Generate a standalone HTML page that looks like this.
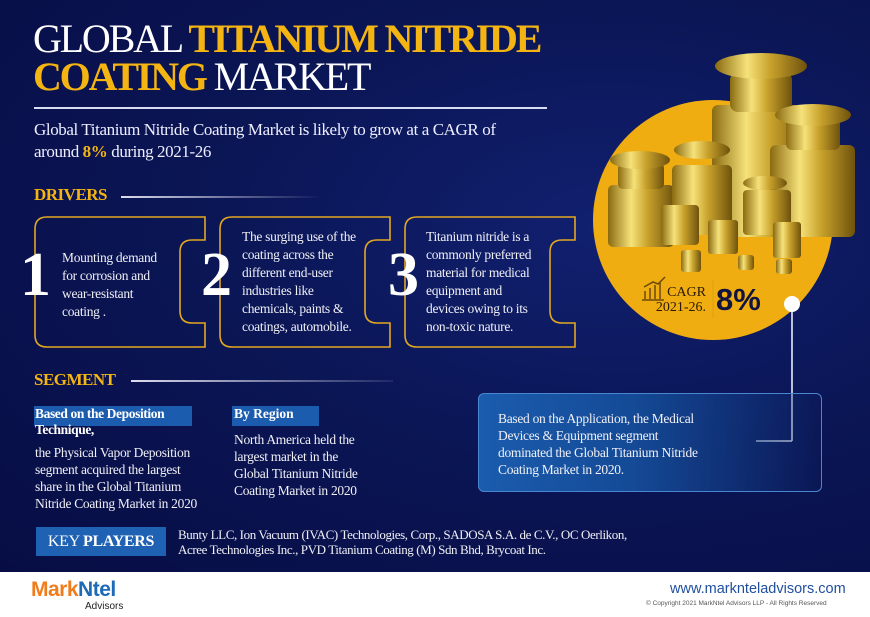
<!DOCTYPE html>
<html><head><meta charset="utf-8">
<style>
*{margin:0;padding:0;box-sizing:border-box}
body{width:870px;height:617px;overflow:hidden;font-family:"Liberation Serif",serif;background:#fff;position:relative}
#bg{position:absolute;left:0;top:0;width:870px;height:572px;background:radial-gradient(ellipse at 70% 40%,#112070 0%,#0b1656 45%,#070d44 100%)}
.abs{position:absolute}
.w{color:#fff}
.y{color:#f4b512}
.t{font-size:13.5px;line-height:18px;color:#f0f0f5;letter-spacing:-0.3px}
</style></head><body>
<div id="bg"></div>

<div class="abs" style="left:33px;top:20px;font-size:40px;line-height:38px;letter-spacing:-2.2px;white-space:nowrap">
<span class="w">GLOBAL </span><span class="y" style="font-weight:bold">TITANIUM NITRIDE</span><br>
<span class="y" style="font-weight:bold">COATING</span><span class="w"> MARKET</span></div>
<div class="abs" style="left:34px;top:107px;width:513px;height:2px;background:#d8dcf0"></div>
<div class="abs w" style="left:34px;top:119px;font-size:17px;line-height:22px;letter-spacing:-0.4px;color:#eef">Global Titanium Nitride Coating Market is likely to grow at a CAGR of<br>around <b class="y">8%</b> during 2021-26</div>

<div class="abs y" style="left:34px;top:185px;font-size:17px;font-weight:bold;letter-spacing:-0.5px">DRIVERS</div>
<div class="abs" style="left:121px;top:196px;width:200px;height:2px;background:linear-gradient(90deg,#dde,rgba(200,200,230,0))"></div>

<svg class="abs" style="left:0;top:0" width="870" height="572">
<g fill="none" stroke="#e3a820" stroke-width="1.6">
<path d="M47,217 H205 V240 H192 Q180,240 180,252 V311 Q180,323 192,323 H205 V347 H47 Q35,347 35,335 V229 Q35,217 47,217Z"/>
<path d="M232,217 H390 V240 H377 Q365,240 365,252 V311 Q365,323 377,323 H390 V347 H232 Q220,347 220,335 V229 Q220,217 232,217Z"/>
<path d="M417,217 H575 V240 H562 Q550,240 550,252 V311 Q550,323 562,323 H575 V347 H417 Q405,347 405,335 V229 Q405,217 417,217Z"/>
</g>
<circle cx="713" cy="220" r="120" fill="#f0ad11"/>
<g>
<defs><linearGradient id="gold" x1="0" x2="1"><stop offset="0" stop-color="#8a6a10"/><stop offset=".35" stop-color="#f6e27a"/><stop offset=".6" stop-color="#c9a22c"/><stop offset="1" stop-color="#6e520c"/></linearGradient></defs>
<rect x="712" y="105" width="98" height="132" rx="6" fill="url(#gold)"/>
<rect x="730" y="72" width="62" height="40" rx="8" fill="url(#gold)"/>
<ellipse cx="761" cy="66" rx="46" ry="13" fill="url(#gold)"/>
<rect x="770" y="145" width="85" height="92" rx="6" fill="url(#gold)"/>
<rect x="786" y="118" width="54" height="32" rx="6" fill="url(#gold)"/>
<ellipse cx="813" cy="115" rx="38" ry="11" fill="url(#gold)"/>
<rect x="608" y="185" width="66" height="62" rx="5" fill="url(#gold)"/>
<rect x="618" y="163" width="46" height="26" rx="5" fill="url(#gold)"/>
<ellipse cx="640" cy="160" rx="30" ry="9" fill="url(#gold)"/>
<rect x="672" y="165" width="60" height="70" rx="5" fill="url(#gold)"/>
<ellipse cx="702" cy="150" rx="28" ry="9" fill="url(#gold)"/>
<rect x="743" y="190" width="48" height="45" rx="4" fill="url(#gold)"/>
<ellipse cx="765" cy="183" rx="22" ry="7" fill="url(#gold)"/>
<rect x="661" y="205" width="38" height="40" rx="4" fill="url(#gold)"/>
<rect x="708" y="220" width="30" height="34" rx="3" fill="url(#gold)"/>
<rect x="773" y="222" width="28" height="36" rx="3" fill="url(#gold)"/>
<rect x="681" y="250" width="20" height="22" rx="3" fill="url(#gold)"/>
<rect x="738" y="255" width="16" height="15" rx="3" fill="url(#gold)"/>
<rect x="776" y="259" width="16" height="15" rx="3" fill="url(#gold)"/>
</g>
<line x1="713" y1="280" x2="713" y2="318" stroke="#e0a010" stroke-width="1"/>
<g stroke="#6b4a08" stroke-width="1.5" fill="none">
<path d="M642,300 H664 M645,299 V291 M650,299 V288 M655,299 V285 M660,299 V282 M644,287 L653,282 L658,284 L665,277"/>
</g>
<line x1="792" y1="304" x2="792" y2="441" stroke="#e8ebf7" stroke-width="1.6"/>
<line x1="756" y1="441" x2="792" y2="441" stroke="#e8ebf7" stroke-width="1.6"/>
<circle cx="792" cy="304" r="8" fill="#fff"/>
</svg>

<div class="abs" style="left:646px;top:285px;font-size:14px;line-height:15px;color:#2a1a00;text-align:right;width:60px">CAGR<br>2021-26.</div>
<div class="abs" style="left:716px;top:282px;font-family:'Liberation Sans',sans-serif;font-weight:bold;font-size:31px;color:#10143e">8%</div>

<div class="abs w" style="left:20px;top:240px;font-size:62px;font-weight:bold">1</div>
<div class="abs w" style="left:201px;top:240px;font-size:62px;font-weight:bold">2</div>
<div class="abs w" style="left:388px;top:240px;font-size:62px;font-weight:bold">3</div>
<div class="abs t" style="left:62px;top:249px">Mounting demand<br>for corrosion and<br>wear-resistant<br>coating .</div>
<div class="abs t" style="left:242px;top:228px">The surging use of the<br>coating across the<br>different end-user<br>industries like<br>chemicals, paints &amp;<br>coatings, automobile.</div>
<div class="abs t" style="left:426px;top:228px">Titanium nitride is a<br>commonly preferred<br>material for medical<br>equipment and<br>devices owing to its<br>non-toxic nature.</div>

<div class="abs y" style="left:34px;top:370px;font-size:17px;font-weight:bold;letter-spacing:-0.5px">SEGMENT</div>
<div class="abs" style="left:131px;top:380px;width:262px;height:2px;background:linear-gradient(90deg,#dde,rgba(200,200,230,0.1))"></div>

<div class="abs" style="left:34px;top:406px;width:158px;height:20px;background:#1b5cae"></div>
<div class="abs w" style="left:35px;top:406px;font-size:13.5px;line-height:16px;font-weight:bold;letter-spacing:-0.4px">Based on the Deposition<br>Technique,</div>
<div class="abs t" style="left:35px;top:444px;line-height:17px">the Physical Vapor Deposition<br>segment acquired the largest<br>share in the Global Titanium<br>Nitride Coating Market in 2020</div>
<div class="abs" style="left:232px;top:406px;width:87px;height:20px;background:#1b5cae"></div>
<div class="abs w" style="left:234px;top:406px;font-size:13.5px;line-height:16px;font-weight:bold">By Region</div>
<div class="abs t" style="left:234px;top:431px;line-height:17px">North America held the<br>largest market in the<br>Global Titanium Nitride<br>Coating Market in 2020</div>

<div class="abs" style="left:478px;top:393px;width:344px;height:99px;border-radius:6px;border:1.5px solid #4a86d0;background:linear-gradient(90deg,#1b5cae 0%,#144a96 45%,rgba(13,30,94,0.2) 100%)"></div>
<div class="abs t" style="left:498px;top:410px;line-height:17px">Based on the Application, the Medical<br>Devices &amp; Equipment segment<br>dominated the Global Titanium Nitride<br>Coating Market in 2020.</div>

<div class="abs" style="left:36px;top:527px;width:130px;height:29px;background:#1f62b4;color:#fff;font-size:16px;line-height:29px;text-align:center;letter-spacing:-0.3px">KEY <b>PLAYERS</b></div>
<div class="abs t" style="left:178px;top:527px;line-height:15px;font-size:13px;letter-spacing:-0.4px">Bunty LLC, Ion Vacuum (IVAC) Technologies, Corp., SADOSA S.A. de C.V., OC Oerlikon,<br>Acree Technologies Inc., PVD Titanium Coating (M) Sdn Bhd, Brycoat Inc.</div>

<div class="abs" style="left:0;top:572px;width:870px;height:45px;background:#fff"></div>
<div class="abs" style="left:31px;top:578px;font-family:'Liberation Sans',sans-serif;font-weight:bold;font-size:21px;letter-spacing:-0.5px"><span style="color:#f07c1c">Mark</span><span style="color:#1c6ab8">Ntel</span></div>
<div class="abs" style="left:85px;top:601px;font-family:'Liberation Sans',sans-serif;font-size:10px;color:#222">Advisors</div>
<div class="abs" style="left:670px;top:581px;font-family:'Liberation Sans',sans-serif;font-size:14.5px;color:#1f4f9e">www.marknteladvisors.com</div>
<div class="abs" style="left:646px;top:600px;font-family:'Liberation Sans',sans-serif;font-size:6.5px;color:#555">© Copyright 2021 MarkNtel Advisors LLP - All Rights Reserved</div>
</body></html>
